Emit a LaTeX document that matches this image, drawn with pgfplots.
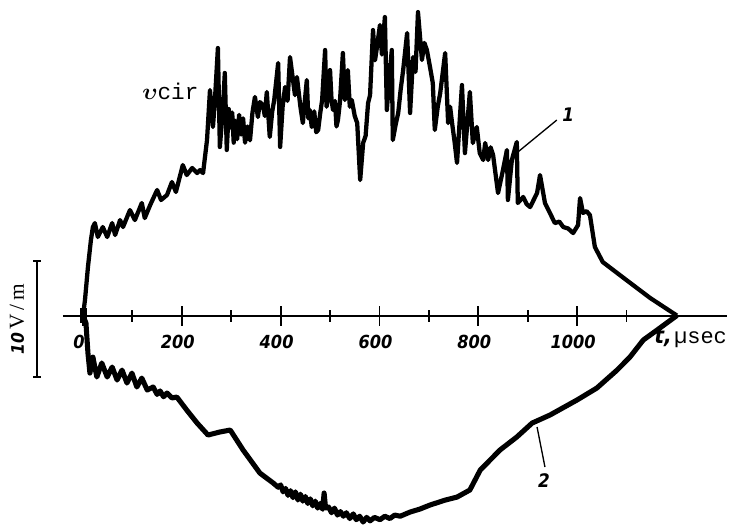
\documentclass[border=0pt]{standalone}
\usepackage{amsmath}
\usepackage{fontspec}
\setmainfont{Liberation Serif}
\setmonofont{Liberation Mono}
\newfontfamily\numfont{DejaVu Sans Condensed}
\usepackage{pgfplots}
\pgfplotsset{compat=1.18}
\begin{document}
\begin{tikzpicture}
\begin{axis}[
  scale only axis, width=498pt, height=396pt,
  xmin=-40.5, xmax=1303.6, ymin=-18.32, ymax=27.2,
  axis x line=middle, axis y line=none,
  axis line style={-, line width=1.5pt},
  xtick={0,200,...,1000},
  minor xtick={100,300,...,1100},
  major tick length=15pt, minor tick length=9pt,
  tick align=center,
  tick style={black, line width=1.4pt},
  xticklabel style={font=\numfont\bfseries\itshape\fontsize{13.5}{15}\selectfont, anchor=north, xshift=-3pt, yshift=-3.5pt},
  /pgf/number format/assume math mode=true,
  /pgf/number format/1000 sep={},
  ytick=\empty,
  clip=false,
]
\path (axis cs:-168,-18.32) rectangle (axis cs:1315.6,27.2);
% curve 1
\addplot[black, line width=3.2pt, line join=round, no marks] coordinates {
(0,0) (4,1.34) (10,4.18) (16,6.5) (20,7.63) (24,7.97) (30,6.77) (40,7.63) (49,6.77) (59,7.97)
(65,6.94) (75,8.23) (81,7.63) (95,9.09) (105,8.23) (119,9.7) (125,8.4) (136,9.53) (150,10.82)
(158,9.96) (170,10.39) (180,11.51) (188,10.65) (202,12.97) (210,12.11) (221,12.72) (231,12.28)
(237,12.54) (243,12.28) (251,15.13) (257,19.44) (263,16.25) (267,18.58) (273,23.06) (277,14.53)
(283,17.72) (287,20.91) (291,14.27) (295,17.8) (298,16.2) (302,17.5) (305,14.9) (308,16.8)
(312,15.2) (316,17.3) (320,15.6) (324,17.0) (328,14.9) (333,16.3) (338,15.1) (343,17.5)
(348,18.84) (354,17.11) (358,18.4) (364,18.15) (368,17.2) (372,19.27) (378,15.39) (383,17.6)
(387,18.58) (395,21.77) (399,14.53) (404,18.0)
(409,19.7) (414,18.5) (419,22.28) (425,20.3) (429,19.0) (433,20.56) (440,18.0) (445,16.59)
(449,18.5) (453,20.3) (456,17.0) (459,17.72) (463,16.25) (468,17.6) (472,15.8) (476,16.0)
(480,17.4) (484,18.58) (490,22.89) (493,18.0) (496,18.84) (500,21.16) (503,18.6) (506,17.72)
(510,18.5) (513,16.3) (516,16.85) (520,18.4) (526,22.63)
(530,18.58) (536,21.16) (540,18.0) (544,18.58) (550,17.2) (555,16.59) (561,11.68) (567,14.87) (572,15.5) (577,18.32) (581,19.0)
(587,24.61) (591,22.0) (595,23.15) (601,25.04) (605,22.5) (611,25.73) (615,17.72) (620,20.5) (625,22.89) (627,15.13) (633,16.5) (638,17.46)
(643,19.5) (648,21.16) (656,24.35) (662,17.46) (668,22.28) (673,21.0) (678,26.16) (686,22.03) (691,23.5) (696,22.89) (702,21.5) (708,20.04)
(712,15.99) (718,18.0) (723,19.18) (733,22.63) (739,16.59) (743,18.0) (747,16.59) (752,15.0) (757,13.15) (767,19.87) (773,14.0)
(783,19.27) (789,14.87) (797,16.25) (803,14.0) (810,13.41) (814,14.87) (820,13.41) (825,14.5) (830,13.84) (840,10.56)
(850,12.54) (858,14.27) (860,9.96) (868,13.41) (878,14.96) (880,9.7) (891,10.22) (898,9.6) (905,9.35)
(919,10.56) (925,12.11) (935,9.7) (945,8.84) (955,7.97) (964,8.1) (972,7.63) (982,7.5) (992,7.11) (1002,7.8)
(1006,10.13) (1012,8.84) (1019,9.0) (1026,8.66) (1036,5.91) (1052,4.61) (1097,3.15) (1148,1.51) (1202,0)
};
% curve 2
\addplot[black, line width=3.8pt, line join=round, no marks] coordinates {
(0,0) (6,-0.65) (10,-3.23) (14,-4.96) (20,-3.58) (28,-5.3) (38,-4.09) (49,-5.3) (59,-4.44)
(69,-5.56) (79,-4.7) (89,-5.82) (99,-4.96) (109,-6.16) (119,-5.39) (130,-6.42) (142,-6.16)
(150,-6.8) (156,-6.5) (163,-7.0) (170,-6.68) (180,-7.1) (190,-7.03) (210,-8.15) (231,-9.27) (253,-10.3) (277,-10.04) (298,-9.87)
(324,-11.59) (358,-13.58) (385,-14.44) (395,-14.8) (400,-14.6) (405,-15.2) (410,-14.9) (415,-15.5)
(420,-15.1) (425,-15.7) (430,-15.2) (435,-15.9) (440,-15.4) (445,-16.0) (450,-15.6) (455,-16.2)
(460,-15.8) (465,-16.4) (470,-16.0) (475,-16.6) (480,-16.2) (485,-16.7) (488,-15.3) (491,-16.6)
(497,-16.5) (503,-17.0) (509,-16.6) (515,-17.2) (521,-16.9) (527,-17.3) (533,-17.0) (540,-17.5)
(547,-17.1) (553,-17.6) (560,-17.3) (567,-17.8) (574,-17.4) (581,-17.7) (590,-17.4) (601,-17.6)
(611,-17.3) (621,-17.5) (631,-17.2) (642,-17.3)
(662,-16.94) (682,-16.68) (702,-16.34) (733,-15.91) (757,-15.65) (783,-15.04)
(804,-13.32) (844,-11.59) (878,-10.47) (909,-9.27) (945,-8.58) (1000,-7.28) (1040,-6.25)
(1081,-4.7) (1107,-3.58) (1134,-2.11) (1162,-1.25) (1202,0)
};
% origin block
\fill (axis cs:-6,0.65) rectangle (axis cs:8,-0.65);
% scale bar
\draw[line width=1.5pt] (axis cs:-93.1,4.7) -- (axis cs:-93.1,-5.3);
\draw[line width=1.5pt] (axis cs:-101,4.7) -- (axis cs:-85,4.7);
\draw[line width=1.5pt] (axis cs:-101,-5.3) -- (axis cs:-85,-5.3);
\node[rotate=90] at (axis cs:-133.6,-0.3) {{\numfont\bfseries\itshape\fontsize{13}{15}\selectfont 10} {\fontsize{16}{18}\selectfont V\,/\,m}};
% labels
\node[anchor=base west, inner sep=0pt] at (axis cs:119.4,18.58) {\fontsize{17}{19}\selectfont$\boldsymbol{\upsilon}$\texttt{cir}};
\draw[line width=1pt] (axis cs:880,14.09) -- (axis cs:959,16.85);
\node[inner sep=0pt] at (axis cs:982,17.28) {\numfont\bfseries\itshape\fontsize{14}{16}\selectfont 1};
\draw[line width=1pt] (axis cs:919,-9.61) -- (axis cs:935,-13.06);
\node[inner sep=0pt] at (axis cs:933,-14.2) {\numfont\bfseries\itshape\fontsize{14}{16}\selectfont 2};
\node[anchor=base west, inner sep=0pt] at (axis cs:1156,-2.38) {{\numfont\bfseries\itshape\fontsize{17}{19}\selectfont t,}\,{\fontsize{16.5}{18}\selectfont\texttt{µsec}}};
\end{axis}
\end{tikzpicture}
\end{document}
